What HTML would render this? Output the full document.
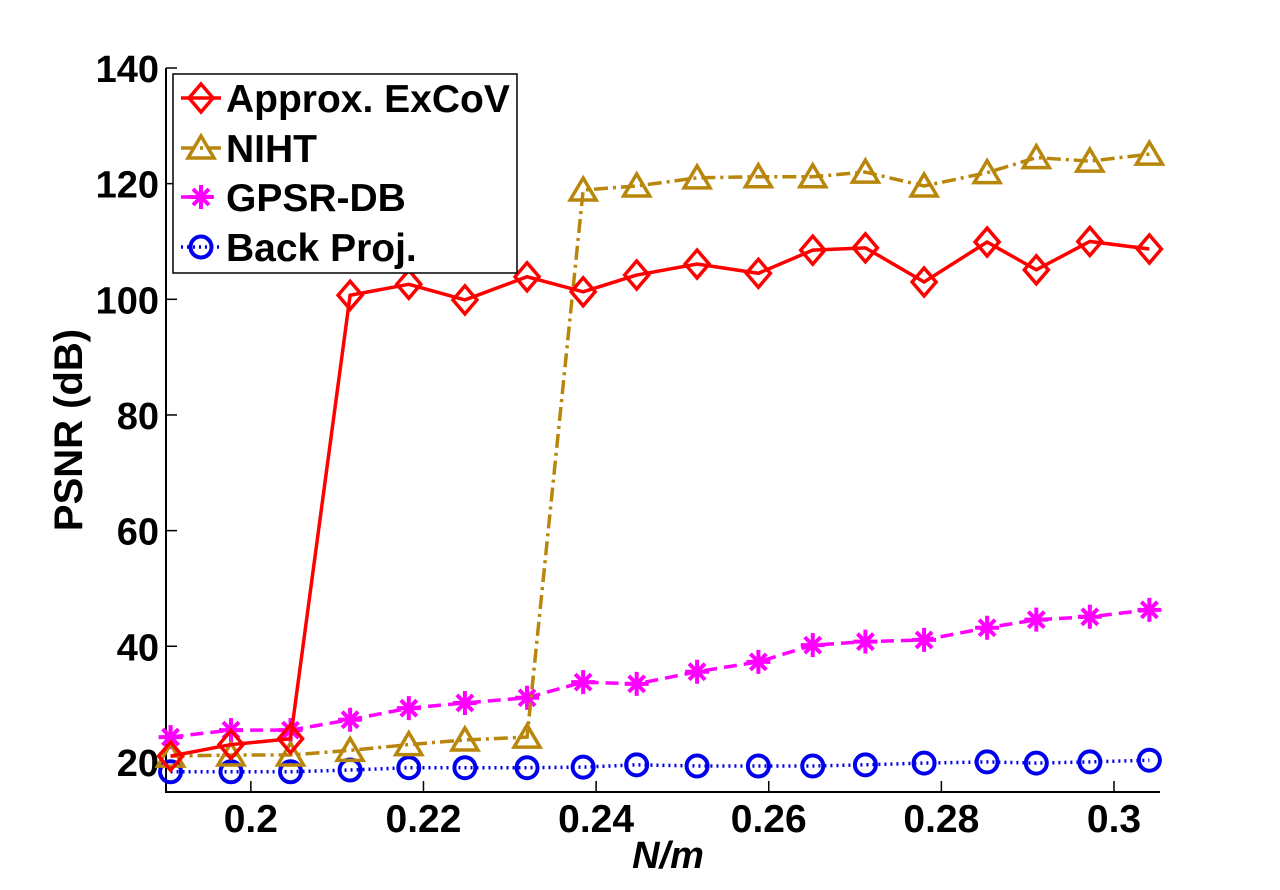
<!DOCTYPE html>
<html><head><meta charset="utf-8"><style>
html,body{margin:0;padding:0;background:#fff;}
svg{display:block;font-family:"Liberation Sans",sans-serif;font-weight:bold;}
</style></head><body>
<svg id="chart" width="1280" height="890" viewBox="0 0 1280 890">
<rect width="1280" height="890" fill="#fff"/>
<g id="plot"></g>
</svg>
<script>
const xValues=[0.1907,0.1977,0.2046,0.2115,0.2183,0.2248,0.2320,0.2385,0.2447,0.2517,0.2588,0.2651,0.2712,0.2780,0.2853,0.2910,0.2972,0.3041];
const excovValues=[21,23,24,100.7,102.6,99.9,103.9,101.3,104.2,106.1,104.5,108.5,108.9,103,109.9,105.1,110,108.7];
const nihtValues=[21,21.2,21.2,22,23,23.8,24.3,118.9,119.6,121,121.2,121.2,122,119.6,121.9,124.5,123.9,125.1];
const gpsrValues=[24.3,25.5,25.5,27.3,29.3,30.2,31.1,33.8,33.5,35.6,37.3,40.2,40.8,41.1,43.2,44.6,45.1,46.3];
const backValues=[18.3,18.3,18.3,18.6,19,19,19,19.1,19.5,19.3,19.3,19.3,19.5,19.8,20,19.8,20,20.3];
const xTicks=[0.2,0.22,0.24,0.26,0.28,0.3];
const xTickLabels=["0.2","0.22","0.24","0.26","0.28","0.3"];
const yTicks=[20,40,60,80,100,120,140];
const yTickLabels=["20","40","60","80","100","120","140"];
const seriesNames=["Approx. ExCoV","NIHT","GPSR-DB","Back Proj."];

const L=166,R=1160,T=68,B=792;
const X0=0.19017,X1=0.30533,Y0=14.8,Y1=140;
const sx=v=>L+(v-X0)/(X1-X0)*(R-L);
const sy=v=>B-(v-Y0)/(Y1-Y0)*(B-T);
const NS="http://www.w3.org/2000/svg";
const g=document.getElementById('plot');
function mk(tag,attrs,parent){const e=document.createElementNS(NS,tag);for(const k in attrs)e.setAttribute(k,attrs[k]);(parent||g).appendChild(e);return e;}

const box=mk('path',{d:`M${L},${T}V${B}H${R}`,fill:'none',stroke:'#000','stroke-width':2});



xTicks.forEach((t,i)=>{
  const x=sx(t);
  const tk=mk('path',{d:`M${x},${B}V${B-11}`,stroke:'#000','stroke-width':1.5});
  
  
  const tx=mk('text',{x:x,y:B+40,'font-size':39,'text-anchor':'middle'});
  tx.textContent=xTickLabels[i];
  
  
});
yTicks.forEach((t,i)=>{
  const y=sy(t);
  const tk=mk('path',{d:`M${L},${y}H${L+11}`,stroke:'#000','stroke-width':1.5});
  
  
  const tx=mk('text',{x:L-7,y:y+14,'font-size':38,'text-anchor':'end'});
  tx.textContent=yTickLabels[i];
  
  
});
const yt=mk('text',{x:0,y:0,'font-size':40,'text-anchor':'middle',transform:'translate(82,430) rotate(-90)'});
yt.textContent='PSNR (dB)';


const xt=mk('text',{x:668,y:868,'font-size':38,'text-anchor':'middle','font-style':'italic'});
xt.textContent='N/m';



function marker(type,x,y,color,parent){
  const s=12;
  if(type==='diamond') return mk('path',{d:`M${x},${y-s-2}L${x+s},${y}L${x},${y+s+2}L${x-s},${y}Z`,fill:'none',stroke:color,'stroke-width':3.5},parent);
  if(type==='tri') return mk('path',{d:`M${x},${y-s}L${x+s+1},${y+s-2}L${x-s-1},${y+s-2}Z`,fill:'none',stroke:color,'stroke-width':3.5},parent);
  if(type==='star') return mk('path',{d:`M${x-s},${y}H${x+s}M${x},${y-s}V${y+s}M${x-8},${y-8}L${x+8},${y+8}M${x-8},${y+8}L${x+8},${y-8}`,fill:'none',stroke:color,'stroke-width':4},parent);
  return mk('circle',{cx:x,cy:y,r:10.5,fill:'none',stroke:color,'stroke-width':4},parent);
}
const series=[
 {vals:excovValues,color:'#ff0000',dash:'',m:'diamond',name:'series-approx-excov'},
 {vals:nihtValues,color:'#b8860b',dash:'14 5 3 5',m:'tri',name:'series-niht'},
 {vals:gpsrValues,color:'#ff00ff',dash:'13 7',m:'star',name:'series-gpsr-db'},
 {vals:backValues,color:'#0000ee',dash:'2 4',m:'circle',name:'series-back-proj'}
];
series.slice().reverse().forEach(s=>{
  const grp=mk('g',{});
  
  
  const d=s.vals.map((v,i)=>(i?'L':'M')+sx(xValues[i])+','+sy(v)).join('');
  const p=mk('path',{d:d,fill:'none',stroke:s.color,'stroke-width':3.5,'stroke-dasharray':s.dash},grp);
  
  
  s.vals.forEach((v,i)=>{
    const m=marker(s.m,sx(xValues[i]),sy(v),s.color,grp);
    
    
  });
});

const lg=mk('g',{});


mk('rect',{x:173,y:74,width:344,height:199,fill:'#fff',stroke:'#000','stroke-width':1.5},lg);
const ly=[98,148,197,247];
series.forEach((s,i)=>{
  const e=mk('g',{},lg);
  
  
  mk('path',{d:`M181,${ly[i]}H221`,stroke:s.color,'stroke-width':3.5,'stroke-dasharray':s.dash},e);
  marker(s.m,201,ly[i],s.color,e);
  const t=mk('text',{x:226,y:ly[i]+14,'font-size':39},e);
  t.textContent=seriesNames[i];
});
</script>
</body></html>
